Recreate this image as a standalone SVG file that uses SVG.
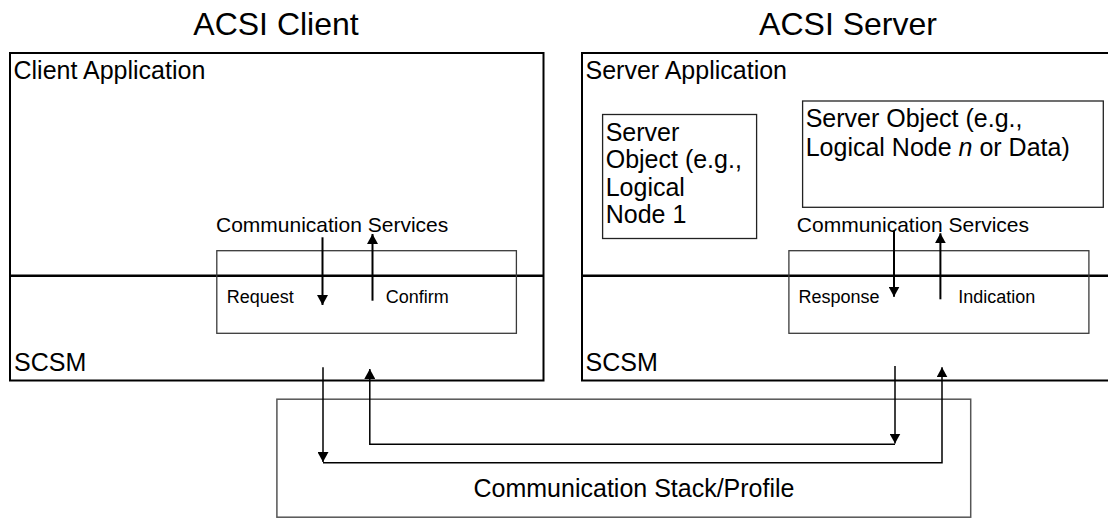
<svg xmlns="http://www.w3.org/2000/svg" width="1108" height="518" viewBox="0 0 1108 518">
  <style>
    text { font-family: "Liberation Sans", Arial, sans-serif; fill: #000; }
    .title { font-size: 32px; text-anchor: middle; }
    .big { font-size: 25px; }
    .svc { font-size: 21px; }
    .prim { font-size: 18px; }
    .outer { fill: none; stroke: #000; stroke-width: 2; }
    .sep { fill: none; stroke: #000; stroke-width: 2.5; }
    .inner { fill: none; stroke: #3a3a3a; stroke-width: 1.3; }
    .obj { fill: none; stroke: #222; stroke-width: 1.3; }
    .stackbox { fill: none; stroke: #555; stroke-width: 1.5; }
    .arr { fill: none; stroke: #000; stroke-width: 2; }
    .arr2 { fill: none; stroke: #000; stroke-width: 1.5; }
  </style>
  <defs>
    <marker id="head" viewBox="0 0 10 11" refX="10" refY="5.5" markerWidth="10" markerHeight="11" markerUnits="userSpaceOnUse" orient="auto">
      <path d="M0,0 L10,5.5 L0,11 z" fill="#000"/>
    </marker>
  </defs>
  <rect width="1108" height="518" fill="#fff"/>

  <g id="titles">
    <text class="title" x="276" y="35">ACSI Client</text>
    <text class="title" x="848" y="35">ACSI Server</text>
  </g>

  <g id="client">
    <rect class="outer" x="10" y="53" width="533.5" height="327.5"/>
    <line class="sep" x1="10" y1="275.7" x2="543.5" y2="275.7"/>
    <text class="big" x="13.5" y="78.5">Client Application</text>
    <text class="big" x="14" y="370.5">SCSM</text>
  </g>

  <g id="client-services">
    <rect class="inner" x="216.8" y="250.7" width="299.6" height="82.6"/>
    <text class="svc" x="216" y="232">Communication Services</text>
    <text class="prim" x="226.8" y="303">Request</text>
    <text class="prim" x="385.7" y="303">Confirm</text>
  </g>

  <g id="server">
    <rect class="outer" x="582" y="53" width="540" height="327.5"/>
    <line class="sep" x1="582" y1="275.7" x2="1108" y2="275.7"/>
    <text class="big" x="585.5" y="78.5">Server Application</text>
    <text class="big" x="585.5" y="370.5">SCSM</text>
  </g>

  <g id="server-object-1">
    <rect class="obj" x="602.6" y="114.5" width="154" height="124"/>
    <text class="big" x="605.7" y="140.5">Server</text>
    <text class="big" x="605.7" y="168">Object (e.g.,</text>
    <text class="big" x="605.7" y="195.5">Logical</text>
    <text class="big" x="605.7" y="223">Node 1</text>
  </g>

  <g id="server-object-n">
    <rect class="obj" x="802.6" y="101" width="300.7" height="106.3"/>
    <text class="big" x="805.7" y="127">Server Object (e.g.,</text>
    <text class="big" x="805.7" y="155.5">Logical Node <tspan font-style="italic">n</tspan> or Data)</text>
  </g>

  <g id="server-services">
    <rect class="inner" x="788.9" y="250.7" width="300" height="82.6"/>
    <text class="svc" x="796.8" y="232">Communication Services</text>
    <text class="prim" x="798.5" y="303">Response</text>
    <text class="prim" x="958.3" y="303">Indication</text>
  </g>

  <g id="stack">
    <rect class="stackbox" x="276.9" y="399.2" width="693.8" height="118"/>
    <text class="big" x="634" y="497.3" text-anchor="middle" font-size="25.5">Communication Stack/Profile</text>
  </g>

  <g id="connectors">
    <line class="arr" x1="322.5" y1="237.3" x2="322.5" y2="305" marker-end="url(#head)"/>
    <line class="arr" x1="372.5" y1="300.7" x2="372.5" y2="234" marker-end="url(#head)"/>
    <line class="arr" x1="894" y1="230.7" x2="894" y2="296.7" marker-end="url(#head)"/>
    <line class="arr" x1="940.4" y1="299.3" x2="940.4" y2="233.3" marker-end="url(#head)"/>

    <line class="arr2" x1="323" y1="367.3" x2="323" y2="462" marker-end="url(#head)"/>
    <polyline class="arr2" points="323,462.8 942,462.8 942,367.3" marker-end="url(#head)"/>
    <line class="arr2" x1="895" y1="366" x2="895" y2="443.5" marker-end="url(#head)"/>
    <polyline class="arr2" points="895,444.3 369.8,444.3 369.8,369" marker-end="url(#head)"/>
  </g>
</svg>
